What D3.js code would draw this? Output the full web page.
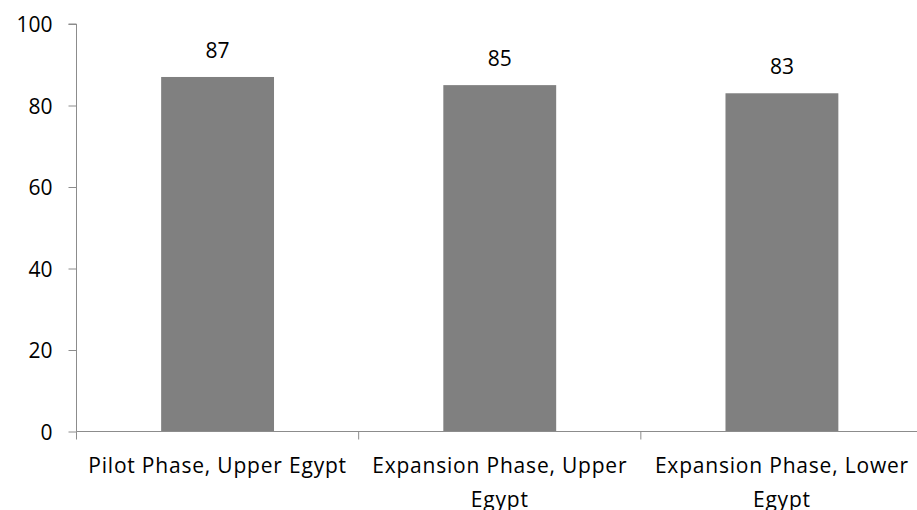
<!DOCTYPE html>
<html><head><meta charset="utf-8">
<script src="https://cdn.jsdelivr.net/npm/d3@7"></script>
<style>body{margin:0;background:#fff}svg{display:block}text{font-family:"Open Sans",sans-serif;fill:#000}</style>
</head><body><svg id="c" width="917" height="510"></svg>
<script>
const categories = [["Pilot Phase, Upper Egypt"], ["Expansion Phase, Upper", "Egypt"], ["Expansion Phase, Lower", "Egypt"]];
const values = [87, 85, 83];
const yTicks = [0, 20, 40, 60, 80, 100];

(function() {
const svg = d3.select("#c");
const mLeft = 76.5, mRight = 923, mTop = 24, mBottom = 431.5;
const keys = categories.map((c, i) => i);
const x = d3.scaleBand().domain(keys).range([mLeft, mRight]).paddingInner(0).paddingOuter(0);
const y = d3.scaleLinear().domain([0, 100]).range([mBottom, mTop]);
const axisColor = "#8c8c8c";
const bw = x.bandwidth() * 0.4;
const fs = "21px";

svg.selectAll("rect.bar").data(values).join("rect")
  .attr("class", "bar")
  .attr("x", (d, i) => x(i) + x.bandwidth() / 2 - bw / 2)
  .attr("y", d => y(d))
  .attr("width", bw)
  .attr("height", d => y(0) - y(d))
  .attr("fill", "#808080");

svg.selectAll("text.val").data(values).join("text")
  .attr("class", "val")
  .attr("x", (d, i) => x(i) + x.bandwidth() / 2)
  .attr("y", d => y(d) - 19)
  .attr("text-anchor", "middle")
  .style("font-size", fs)
  .text(d => d);

const ya = svg.append("g").attr("transform", `translate(${mLeft},0)`)
  .call(d3.axisLeft(y).tickValues(yTicks).tickSize(8).tickPadding(16));
ya.select(".domain").attr("stroke", axisColor).attr("d", `M-8,${mTop}H0V${mBottom}`);
ya.selectAll(".tick line").attr("stroke", axisColor);
ya.selectAll(".tick text").style("font-size", fs).attr("fill", "#000").attr("font-family", null).attr("dy", "0.36em");

const xa = svg.append("g").attr("transform", `translate(0,${mBottom})`);
xa.append("line").attr("x1", mLeft).attr("x2", mRight).attr("stroke", axisColor);
const bounds = keys.map(k => x(k)).concat([mRight]);
xa.selectAll("line.tk").data(bounds).join("line")
  .attr("class", "tk")
  .attr("x1", d => d).attr("x2", d => d).attr("y1", 0).attr("y2", 8).attr("stroke", axisColor);
svg.selectAll("text.cat").data(categories).join("text")
  .attr("class", "cat")
  .attr("text-anchor", "middle")
  .style("font-size", fs)
  .style("letter-spacing", "0.8px")
  .each(function(lines, i) {
    const t = d3.select(this);
    lines.forEach((ln, j) => t.append("tspan")
      .attr("x", x(i) + x.bandwidth() / 2)
      .attr("y", 473 + j * 34)
      .text(ln));
  });
})();
</script></body></html>
